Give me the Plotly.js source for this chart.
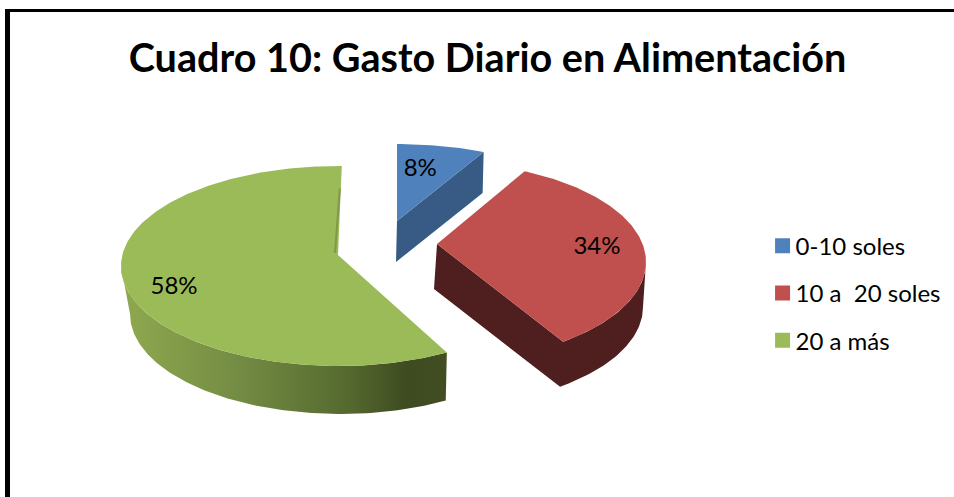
<!DOCTYPE html>
<html>
<head>
<meta charset="utf-8">
<script src="https://cdn.plot.ly/plotly-3.0.1.min.js"></script>
<style>html,body{margin:0;padding:0;background:#fff;overflow:hidden}</style>
</head>
<body>
<div id="chart" style="width:954px;height:497px"></div>
<script>
// Data
const categories = ['0-10 soles', '10 a\u00A0\u00A020 soles', '20 a más'];
const values = [8, 34, 58];
const chartTitle = 'Cuadro 10: Gasto Diario en Alimentación';

// Style
const topColors = ['#4f81bd', '#c0504d', '#9bbb59'];
const sideColors = ['#375b85', '#4e1f1e', '#5b7030'];
const FONT = 'Lato, Carlito, Calibri, sans-serif';

// 3D view of each exploded slice: apex, ellipse radii, depth, perspective tweaks
const view = [
  {ax: 397, ay: 221, oy: 15, rx: 213, ry: 92, depth: 41, xs: 1, xsh: -1, warp: [0, -4.8], wall: false, f: .75, nudge: [-10, 5]},
  {ax: 437, ay: 244, oy: 18, rx: 209, ry: 100, depth: 45, xs: 1, xsh: -3, warp: [-4, -8.3], wall: [90], f: .77, nudge: [0, -2]},
  {ax: 338, ay: 255, oy: 11, rx: 217, ry: 100, depth: 48, xs: .969, xsh: 2.3, warp: [-1.3, 1], wall: [270], f: .79, nudge: [2, 4]}
];

const total = values.reduce((a, b) => a + b, 0);
const rad = d => d * Math.PI / 180;
const data = [];

function project(v, deg, frac, lower) {
  const px = v.rx * frac * Math.sin(rad(deg));
  const py = v.ry * frac * Math.cos(rad(deg));
  if (!lower) return [v.ax + px, v.ay + v.oy * frac - py];
  return [v.ax + px * v.xs + v.xsh, v.ay + v.oy * frac - py + v.depth];
}
function arc(v, a, b, lower) {
  const pts = [];
  const n = Math.max(2, Math.ceil(Math.abs(b - a)));
  for (let i = 0; i <= n; i++) pts.push(project(v, a + (b - a) * i / n, 1, lower));
  return pts;
}
function trace(pts, extra) {
  return Object.assign({
    type: 'scatter', mode: 'lines', x: pts.map(p => p[0]), y: pts.map(p => p[1]),
    fill: 'toself', line: {width: 0}, showlegend: false, hoverinfo: 'skip'
  }, extra);
}

let cum = 0;
const spans = values.map((val, i) => {
  const a = 360 * cum / total + view[i].warp[0];
  cum += val;
  const b = 360 * cum / total + view[i].warp[1];
  return [a, b];
});

// Side walls, drawn first
[2, 1, 0].forEach(i => {
  const v = view[i], [a, b] = spans[i];
  const apexTop = [v.ax, v.ay];
  const apexBottom = [v.ax + v.xsh, v.ay + v.depth];
  let pts;
  let extra = {fillcolor: sideColors[i]};
  if (i === 0) {
    const endTop = project(v, b, 1, false), endBottom = project(v, b, 1, true);
    pts = [apexTop, endTop, endBottom, apexBottom, apexTop];
  } else if (i === 1) {
    pts = [apexTop].concat(arc(v, b, v.wall[0], false), arc(v, v.wall[0], b, true), [apexBottom, apexTop]);
  } else {
    pts = arc(v, a, v.wall[0], false).concat(arc(v, v.wall[0], a, true));
    pts.push(pts[0]);
    extra = {fillgradient: {type: 'horizontal', colorscale: [
      [0, '#8fa94f'], [.35, '#748d44'], [.7, '#55692f'], [.88, '#3e4a20'], [1, '#424e22']
    ]}};
  }
  data.push(trace(pts, extra));
});

// Top faces
[2, 1, 0].forEach(i => {
  const v = view[i], [a, b] = spans[i];
  const pts = [[v.ax, v.ay]].concat(arc(v, a, b, false), [[v.ax, v.ay]]);
  data.push(trace(pts, {fillcolor: topColors[i]}));
});

// Thin inner wall of the green slice
{
  const v = view[2], end = project(v, spans[2][1], 1, false);
  data.push({
    type: 'scatter', mode: 'lines', showlegend: false, hoverinfo: 'skip',
    x: [end[0] - 1 + (v.ax - end[0]) * .25, v.ax - 3], y: [end[1] + (v.ay - end[1]) * .25, v.ay - 2],
    line: {color: '#7f9a48', width: 2}
  });
}

// Percent labels
data.push({
  type: 'scatter', mode: 'text', showlegend: false, hoverinfo: 'skip',
  x: values.map((_, i) => {
    const m = (spans[i][0] + spans[i][1]) / 2;
    return project(view[i], m, view[i].f, false)[0] + view[i].nudge[0];
  }),
  y: values.map((_, i) => {
    const m = (spans[i][0] + spans[i][1]) / 2;
    return project(view[i], m, view[i].f, false)[1] + view[i].nudge[1];
  }),
  text: values.map(val => Math.round(100 * val / total) + '%'),
  textposition: 'middle center',
  textfont: {family: FONT, size: 24, color: '#000'}
});

// Legend entries
categories.forEach((name, i) => {
  data.push({
    type: 'scatter', mode: 'markers', name: name, x: [null], y: [null],
    legendgroup: 'g' + i, hoverinfo: 'skip',
    marker: {symbol: 'square', size: 15, color: topColors[i]}
  });
});

const layout = {
  width: 954, height: 497,
  margin: {l: 0, r: 0, t: 0, b: 0},
  paper_bgcolor: '#fff', plot_bgcolor: '#fff',
  showlegend: true,
  title: {
    text: '<b>' + chartTitle + '</b>', x: .511, xanchor: 'center', y: .883, yanchor: 'middle',
    font: {family: FONT, size: 39.6, color: '#000'}
  },
  xaxis: {range: [0, 954], visible: false, fixedrange: true},
  yaxis: {range: [497, 0], visible: false, fixedrange: true},
  legend: {
    x: .792, xanchor: 'left', y: .55, yanchor: 'top',
    traceorder: 'grouped', tracegroupgap: 13,
    font: {family: FONT, size: 24, color: '#000'},
    bgcolor: 'rgba(0,0,0,0)', itemclick: false, itemdoubleclick: false
  },
  shapes: [
    {type: 'line', xref: 'paper', yref: 'paper', x0: 7.5 / 954, x1: 7.5 / 954, y0: 0, y1: 487 / 497, line: {color: '#000', width: 5}},
    {type: 'line', xref: 'paper', yref: 'paper', x0: 5 / 954, x1: 1, y0: 486.5 / 497, y1: 486.5 / 497, line: {color: '#000', width: 3}}
  ]
};

Plotly.newPlot('chart', data, layout, {displayModeBar: false, staticPlot: true}).then(() => {
  // Swatches sit closer to the legend text than Plotly's default
  document.querySelectorAll('.legend .legendsymbols').forEach(g => g.setAttribute('transform', 'translate(7,0)'));
});
</script>
</body>
</html>
